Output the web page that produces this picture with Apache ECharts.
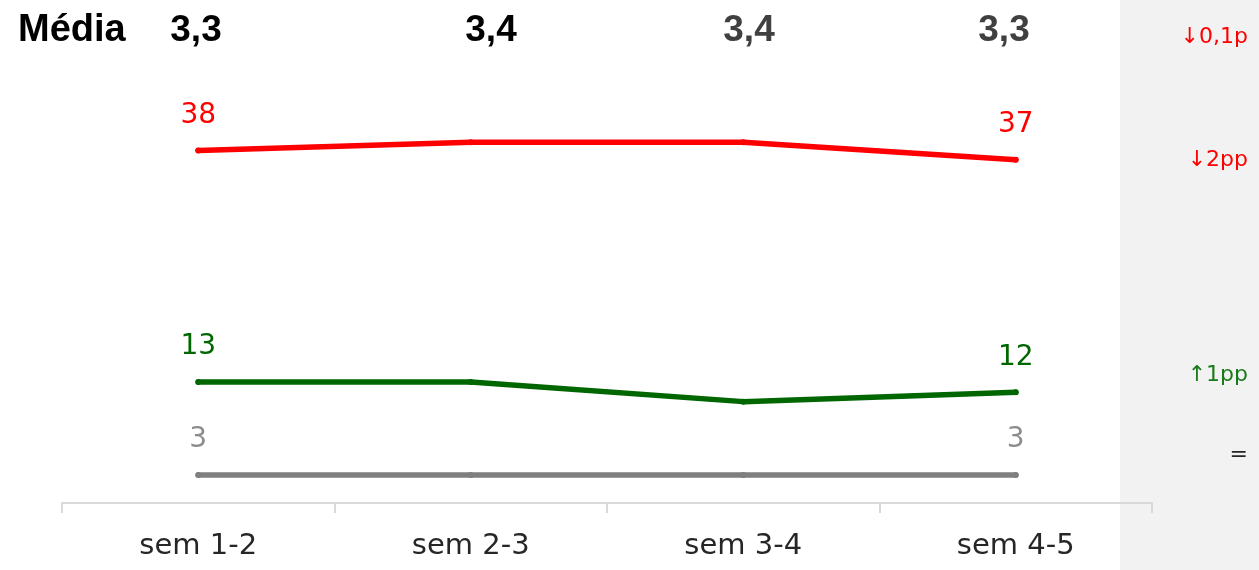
<!DOCTYPE html>
<html>
<head>
<meta charset="utf-8">
<script src="https://cdn.jsdelivr.net/npm/echarts@6/dist/echarts.min.js"></script>
<style>
  html, body { margin: 0; padding: 0; background: #fff; }
  #chart { width: 1259px; height: 570px; }
</style>
</head>
<body>
<div id="chart"></div>
<script>
// --- dados ---
const categories = ["sem 1-2", "sem 2-3", "sem 3-4", "sem 4-5"];
const redValues = [37.9, 38.8, 38.8, 36.9];
const greenValues = [13, 13, 10.9, 11.9];
const greyValues = [3, 3, 3, 3];
const mediaLabel = "Média";
const mediaValues = ["3,3", "3,4", "3,4", "3,3"];
const deltaLabels = ["↓0,1p", "↓2pp", "↑1pp", "="];

const FONT = "'DejaVu Sans', 'Noto Sans', sans-serif";
const BOLD_FONT = "'Liberation Sans', 'Noto Sans', sans-serif";

const chart = echarts.init(document.getElementById("chart"));

function lineSeries(name, data, color, labelColor) {
  return {
    name: name,
    type: "line",
    data: data,
    symbol: "circle",
    symbolSize: 6,
    showSymbol: true,
    itemStyle: { color: color },
    lineStyle: { color: color, width: 5.5, cap: "round", join: "round" },
    label: {
      show: true,
      position: "top",
      distance: 18,
      color: labelColor || color,
      fontSize: 28,
      fontFamily: FONT,
      formatter: function (p) {
        if (p.dataIndex === 0 || p.dataIndex === data.length - 1) {
          return String(Math.round(p.value));
        }
        return "";
      },
    },
    z: 3,
  };
}

const mediaX = [196, 491, 749, 1004];
const mediaColors = ["#000000", "#000000", "#404040", "#404040"];
const deltaY = [37, 160, 375, 455];
const deltaColors = ["#ff0000", "#ff0000", "#1a7a1a", "#262626"];

const graphics = [
  {
    type: "rect",
    shape: { x: 1120, y: 0, width: 139, height: 570 },
    style: { fill: "#f2f2f2" },
    z: -10,
    silent: true,
  },
  {
    type: "text",
    x: 18,
    y: 31,
    style: {
      text: mediaLabel,
      font: "bold 38px " + BOLD_FONT,
      fill: "#000",
      textVerticalAlign: "middle",
    },
  },
];
mediaValues.forEach(function (v, i) {
  graphics.push({
    type: "text",
    x: mediaX[i],
    y: 31,
    style: {
      text: v,
      font: "bold 37px " + BOLD_FONT,
      fill: mediaColors[i],
      textAlign: "center",
      textVerticalAlign: "middle",
    },
  });
});
deltaLabels.forEach(function (t, i) {
  graphics.push({
    type: "text",
    x: 1248,
    y: deltaY[i],
    style: {
      text: t,
      font: "22px " + FONT,
      fill: deltaColors[i],
      textAlign: "right",
      textVerticalAlign: "middle",
    },
  });
});

chart.setOption({
  animation: false,
  grid: { left: 62, right: 107, top: 38, bottom: 67 },
  xAxis: {
    type: "category",
    data: categories,
    boundaryGap: true,
    axisLine: { lineStyle: { color: "#d9d9d9", width: 2 } },
    axisTick: { show: true, length: 10, lineStyle: { color: "#d9d9d9", width: 2 } },
    axisLabel: { color: "#262626", fontSize: 29, fontFamily: FONT, margin: 29 },
  },
  yAxis: {
    type: "value",
    min: 0,
    max: 50,
    show: false,
    splitLine: { show: false },
  },
  series: [
    lineSeries("Vermelho", redValues, "#ff0000"),
    lineSeries("Verde", greenValues, "#006600"),
    lineSeries("Cinza", greyValues, "#7f7f7f", "#8c8c8c"),
  ],
  graphic: graphics,
});
</script>
</body>
</html>
